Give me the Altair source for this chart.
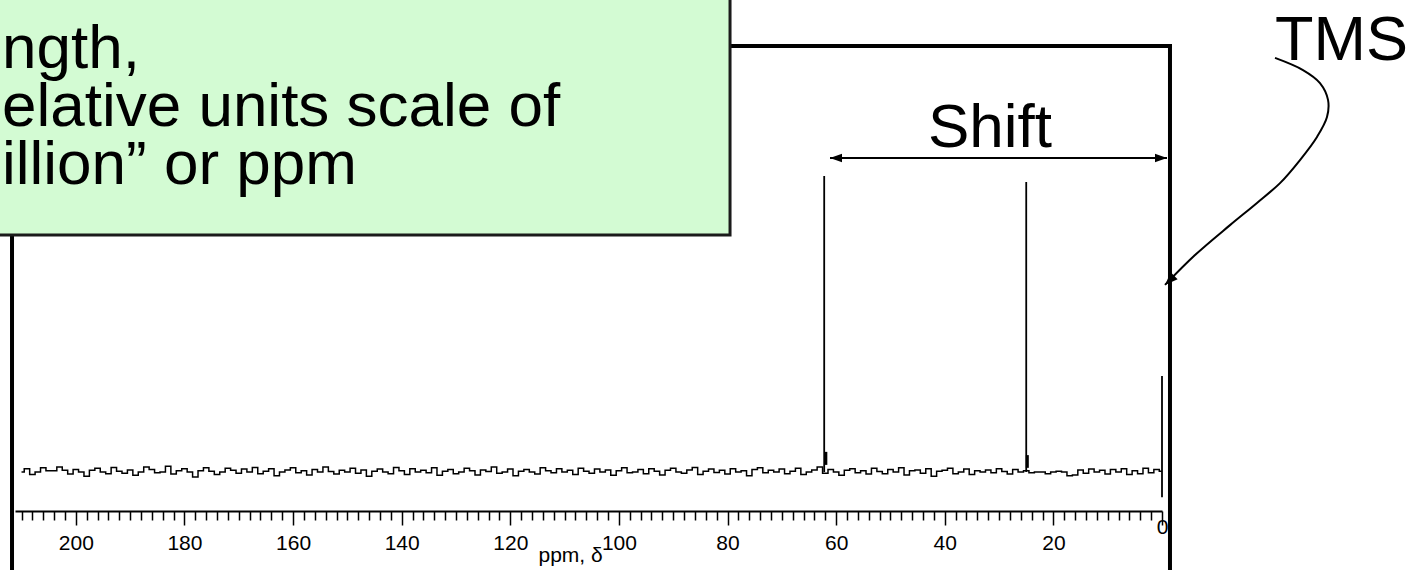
import altair as alt
import pandas as pd

# ---------------- data (x = chemical shift in ppm, y = relative intensity) ----------------
# baseline noise, one value per ppm from 210 down to 0 (thousandths of intensity)
noise_milli = [
    0, 8, -6, 0, 10, 3, 3, 12, 4, -5,
    6, 0, -10, 4, 9, 0, -4, 11, 2, -3,
    5, -8, 0, 12, 6, -2, 0, 14, -5, 3,
    8, 0, -12, 3, 10, 2, -6, 0, 9, 4,
    -3, 7, 0, 11, -4, 2, 8, -9, 0, 5,
    10, -2, 3, -7, 6, 0, 12, 1, -5, 4,
    0, 9, -3, 5, -10, 2, 7, 0, -4, 11,
    3, -6, 8, 0, 4, -2, 10, -8, 2, 6,
    -4, 0, 9, 3, -7, 5, 1, 12, -3, 0,
    7, -9, 2, 6, 0, -5, 10, 3, -2, 8,
    0, 4, -6, 9, 2, -3, 7, 0, 5, -8,
    3, 10, -2, 0, 6, -4, 8, 2, -7, 4,
    9, 0, -3, 5, 11, -6, 2, 7, -1, 4,
    -5, 8, 0, 3, -9, 6, 10, -2, 4, 0,
    7, -4, 2, 9, -6, 0, 5, 12, -3, 6,
    0, -8, 4, 8, -2, 3, -5, 9, 1, -4,
    6, 0, 10, -7, 3, 5, -3, 8, -10, 2,
    4, 9, -4, 0, 7, -6, 3, 0, 5, -2,
    8, 1, -5, 6, 0, 3, -2, 0, 0, -4,
    0, 2, 0, -9, -7, 5, -3, 7, 0, 4,
    -5, 6, 0, 8, -6, 3, -4, 9, -2, 6,
    2,
]
noise_ppm_start = 210

peak_ppm = [62.2, 25.0, 0.0]
peak_top = [1.0, 0.98, 0.324]
peak_bottom = [0.0, 0.0, -0.085]

blob_ppm = [61.9, 24.8]
blob_lo = [0.024, 0.014]
blob_hi = [0.068, 0.057]

tick_values = list(range(0, 211, 2))

# annotation anchors (in ppm / intensity units)
box_x = [216.0, 79.54]
box_y = [1.75, 0.8007]
box_lines = ["ngth,", "elative units scale of", "illion\u201d or ppm"]
box_text_x, box_text_y = 213.6, 1.365

frame_left_x, frame_left_y = 211.75, [0.8007, -0.40]
frame_top_x, frame_top_y = [79.54, -1.84], 1.439
frame_right_x, frame_right_y = -1.47, [1.446, -0.40]

shift_arrow_x = [61.13, -0.92]
shift_arrow_y = 1.061
shift_label = "Shift"
shift_label_x, shift_label_y = 31.67, 1.098

tms_label = "TMS"
tms_label_x, tms_label_y = -20.81, 1.392
tms_curve_x = [-20.81, -25.96, -29.09, -30.57, -30.38, -28.54, -25.41, -21.73, -17.49, -12.52, -6.08, -0.55]
tms_curve_y = [1.399, 1.358, 1.314, 1.257, 1.199, 1.132, 1.054, 0.976, 0.909, 0.834, 0.733, 0.632]

unit_label = "ppm, \u03b4"
unit_label_x, unit_label_y = 108.9, -0.304

# ---------------- chart ----------------
FONT = "Liberation Sans"
XS = alt.Scale(domain=[0, 211.2], reverse=True, nice=False, zero=False)
YS = alt.Scale(domain=[-0.1318, 1.4392], nice=False, zero=False)

X_AXIS = alt.Axis(
    values=tick_values,
    labelExpr="datum.value % 20 === 0 ? datum.label : ''",
    tickSize={"condition": {"test": "datum.value % 20 === 0", "value": 14}, "value": 9},
    labelPadding={"condition": {"test": "datum.value === 0", "value": -9}, "value": 7},
    tickColor="black", tickWidth=1.5,
    domainColor="black", domainWidth=2,
    labelColor="black", labelFont=FONT, labelFontSize=21,
    labelOverlap=False, labelFlush=False, grid=False, title=None,
)


def X(field="x"):
    return alt.X(f"{field}:Q", scale=XS, axis=X_AXIS)


def Y(field="y"):
    return alt.Y(f"{field}:Q", scale=YS, axis=None)


noise_df = pd.DataFrame({
    "x": [noise_ppm_start - i for i in range(len(noise_milli))],
    "y": [v * 0.0014 for v in noise_milli],
})

noise = alt.Chart(noise_df).mark_line(
    interpolate="step", color="black", strokeWidth=1.5
).encode(x=X("x"), y=Y("y"))

peaks_df = pd.DataFrame({"x": peak_ppm, "y": peak_bottom, "y2": peak_top})
peaks = alt.Chart(peaks_df).mark_rule(color="black", strokeWidth=1.8).encode(
    x=X(), y=Y(), y2="y2:Q"
)

blob_df = pd.DataFrame({"x": blob_ppm, "y": blob_lo, "y2": blob_hi})
blobs = alt.Chart(blob_df).mark_rule(color="black", strokeWidth=3).encode(
    x=X(), y=Y(), y2="y2:Q"
)

frame_v_df = pd.DataFrame({
    "x": [frame_left_x, frame_right_x],
    "y": [frame_left_y[0], frame_right_y[0]],
    "y2": [frame_left_y[1], frame_right_y[1]],
})
frame_v = alt.Chart(frame_v_df).mark_rule(color="black", strokeWidth=4).encode(
    x=X(), y=Y(), y2="y2:Q"
)
frame_h_df = pd.DataFrame({"x": [frame_top_x[0]], "x2": [frame_top_x[1]], "y": [frame_top_y]})
frame_h = alt.Chart(frame_h_df).mark_rule(color="black", strokeWidth=4).encode(
    x=X(), x2="x2:Q", y=Y()
)

box_df = pd.DataFrame({"x": [box_x[0]], "x2": [box_x[1]], "y": [box_y[0]], "y2": [box_y[1]]})
box = alt.Chart(box_df).mark_rect(
    fill="#d3fbd3", stroke="#1a1a1a", strokeWidth=3
).encode(x=X(), x2="x2:Q", y=Y(), y2="y2:Q")

box_text = alt.Chart(pd.DataFrame({"x": [box_text_x], "y": [box_text_y]})).mark_text(
    text=box_lines, lineHeight=58,
    align="left", baseline="alphabetic", font=FONT, fontSize=62, color="black"
).encode(x=X(), y=Y())

shift_df = pd.DataFrame({"x": [shift_arrow_x[0]], "x2": [shift_arrow_x[1]], "y": [shift_arrow_y]})
shift_line = alt.Chart(shift_df).mark_rule(color="black", strokeWidth=2).encode(
    x=X(), x2="x2:Q", y=Y()
)
head_r = alt.Chart(pd.DataFrame({"x": [shift_arrow_x[1]], "y": [shift_arrow_y]})).mark_point(
    shape="M0,0 L-2,-0.7 L-2,0.7 Z", size=144, filled=True, color="black", opacity=1
).encode(x=X(), y=Y())
head_l = alt.Chart(pd.DataFrame({"x": [shift_arrow_x[0]], "y": [shift_arrow_y]})).mark_point(
    shape="M0,0 L2,-0.7 L2,0.7 Z", size=144, filled=True, color="black", opacity=1
).encode(x=X(), y=Y())
shift_text = alt.Chart(pd.DataFrame({"t": [shift_label], "x": [shift_label_x], "y": [shift_label_y]})).mark_text(
    align="center", baseline="alphabetic", font=FONT, fontSize=62, color="black"
).encode(x=X(), y=Y(), text="t:N")

tms_text = alt.Chart(pd.DataFrame({"t": [tms_label], "x": [tms_label_x], "y": [tms_label_y]})).mark_text(
    align="left", baseline="alphabetic", font=FONT, fontSize=63, color="black"
).encode(x=X(), y=Y(), text="t:N")

curve_df = pd.DataFrame({"x": tms_curve_x, "y": tms_curve_y, "i": list(range(len(tms_curve_x)))})
tms_curve = alt.Chart(curve_df).mark_line(
    interpolate="catmull-rom", color="black", strokeWidth=2
).encode(x=X(), y=Y(), order="i:Q")
tms_head = alt.Chart(pd.DataFrame({"x": [tms_curve_x[-1]], "y": [tms_curve_y[-1]]})).mark_point(
    shape="M0,0 L-2,-0.75 L-2,0.75 Z", size=169, filled=True, color="black", opacity=1, angle=135
).encode(x=X(), y=Y())

unit_text = alt.Chart(pd.DataFrame({"t": [unit_label], "x": [unit_label_x], "y": [unit_label_y]})).mark_text(
    align="center", baseline="alphabetic", font=FONT, fontSize=21, color="black"
).encode(x=X(), y=Y(), text="t:N")

chart = alt.layer(
    noise, peaks, blobs, frame_v, frame_h, box, box_text,
    shift_line, head_r, head_l, shift_text, tms_text, tms_curve, tms_head, unit_text,
).properties(
    width=1147, height=465,
    padding={"left": 15, "top": 46, "right": 250, "bottom": 59},
    autosize=alt.AutoSizeParams(type="none"),
    background="white",
).configure_view(strokeWidth=0)

chart.save("out.html", embed_options={"renderer": "svg", "actions": False})
